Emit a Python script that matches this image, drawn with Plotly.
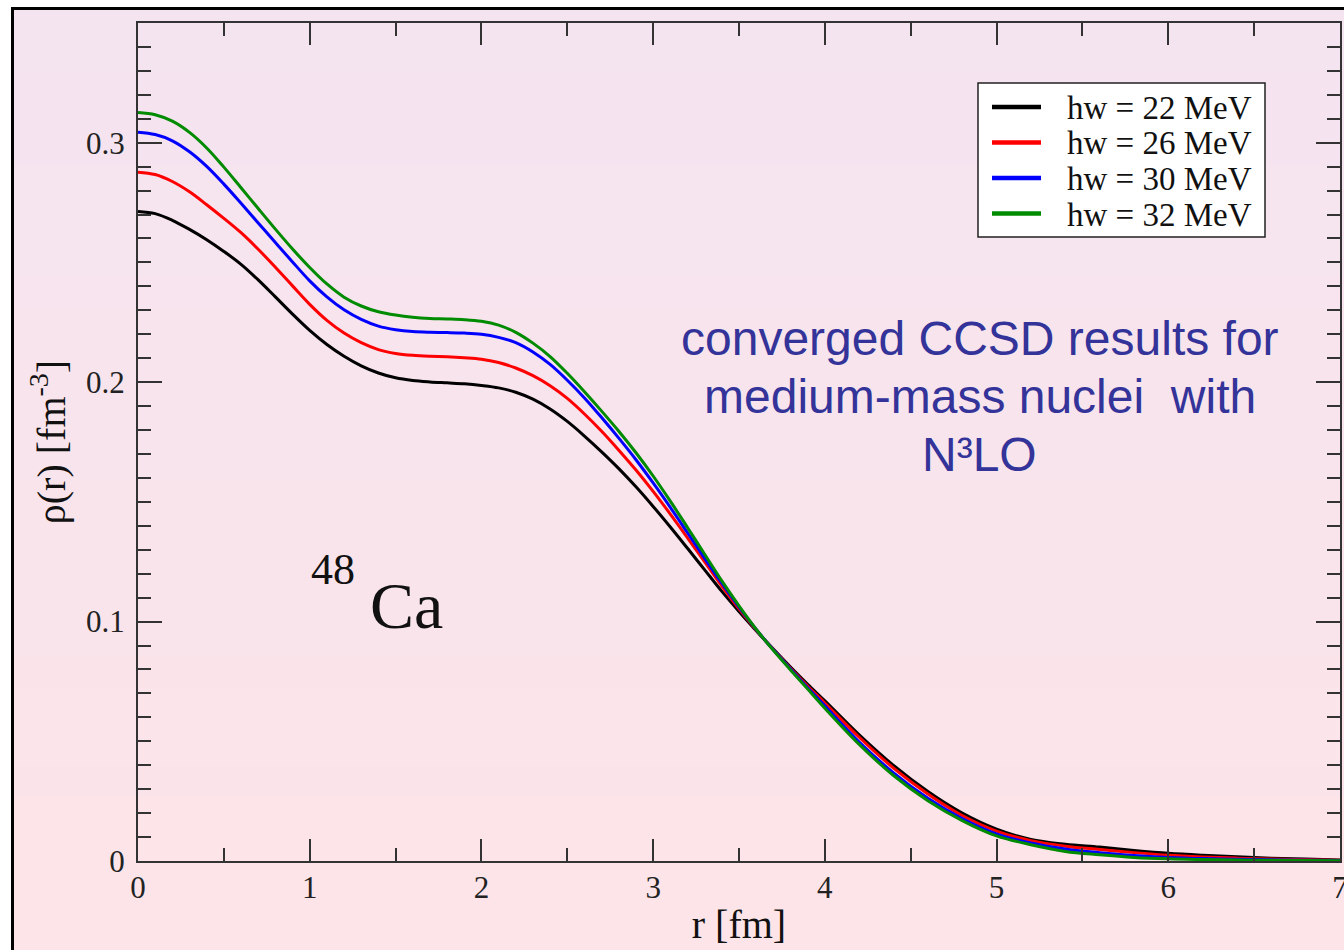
import plotly.graph_objects as go

# Radial density of 48Ca from CCSD at four oscillator frequencies
r = [0.0, 0.1, 0.2, 0.3, 0.4, 0.5, 0.6, 0.7, 0.8, 0.9,
     1.0, 1.1, 1.2, 1.3, 1.4, 1.5, 1.6, 1.7, 1.8, 1.9,
     2.0, 2.1, 2.2, 2.3, 2.4, 2.5, 2.6, 2.7, 2.8, 2.9,
     3.0, 3.1, 3.2, 3.3, 3.4, 3.5, 3.6, 3.7, 3.8, 3.9,
     4.0, 4.2, 4.4, 4.6, 4.8, 5.0, 5.2, 5.4, 5.6, 5.8,
     6.0, 6.2, 6.4, 6.6, 6.8, 7.0]

rho_22 = [0.2713, 0.2704, 0.2676, 0.2638, 0.2595, 0.2546, 0.2492, 0.2427, 0.2356, 0.2284,
          0.2216, 0.2157, 0.2108, 0.2068, 0.2038, 0.2018, 0.2007, 0.2001, 0.1997, 0.1993,
          0.1986, 0.1976, 0.1958, 0.1929, 0.1888, 0.1836, 0.1775, 0.1709, 0.1639, 0.1563,
          0.1481, 0.1395, 0.1306, 0.1216, 0.1126, 0.1042, 0.0962, 0.0885, 0.0810, 0.0738,
          0.0669, 0.0527, 0.0399, 0.0290, 0.0200, 0.0133, 0.0090, 0.0070, 0.0058, 0.0044,
          0.0032, 0.0024, 0.0018, 0.0012, 0.0008, 0.0004]
rho_26 = [0.2877, 0.2867, 0.2838, 0.2795, 0.2741, 0.2684, 0.2624, 0.2555, 0.2480, 0.2402,
          0.2325, 0.2258, 0.2205, 0.2165, 0.2136, 0.2120, 0.2112, 0.2108, 0.2106, 0.2102,
          0.2096, 0.2082, 0.2059, 0.2027, 0.1985, 0.1932, 0.1867, 0.1795, 0.1716, 0.1633,
          0.1544, 0.1449, 0.1350, 0.1249, 0.1148, 0.1053, 0.0965, 0.0883, 0.0805, 0.0731,
          0.0660, 0.0517, 0.0388, 0.0280, 0.0190, 0.0125, 0.0085, 0.0062, 0.0048, 0.0035,
          0.0024, 0.0017, 0.0012, 0.0008, 0.0005, 0.0003]
rho_30 = [0.3044, 0.3034, 0.3008, 0.2962, 0.2901, 0.2827, 0.2747, 0.2665, 0.2583, 0.2502,
          0.2423, 0.2356, 0.2302, 0.2262, 0.2234, 0.2219, 0.2211, 0.2208, 0.2207, 0.2205,
          0.2200, 0.2187, 0.2165, 0.2126, 0.2074, 0.2008, 0.1934, 0.1852, 0.1766, 0.1676,
          0.1579, 0.1477, 0.1371, 0.1264, 0.1160, 0.1060, 0.0967, 0.0882, 0.0802, 0.0724,
          0.0648, 0.0497, 0.0368, 0.0262, 0.0177, 0.0113, 0.0075, 0.0050, 0.0035, 0.0023,
          0.0015, 0.0010, 0.0007, 0.0005, 0.0003, 0.0002]
rho_32 = [0.3126, 0.3117, 0.3090, 0.3043, 0.2978, 0.2898, 0.2812, 0.2725, 0.2639, 0.2556,
          0.2479, 0.2410, 0.2355, 0.2318, 0.2294, 0.2280, 0.2271, 0.2266, 0.2264, 0.2261,
          0.2254, 0.2238, 0.2208, 0.2163, 0.2107, 0.2037, 0.1960, 0.1879, 0.1795, 0.1705,
          0.1608, 0.1503, 0.1393, 0.1281, 0.1170, 0.1066, 0.0968, 0.0880, 0.0798, 0.0718,
          0.0638, 0.0487, 0.0357, 0.0252, 0.0169, 0.0105, 0.0068, 0.0040, 0.0026, 0.0015,
          0.0009, 0.0006, 0.0004, 0.0003, 0.0002, 0.0001]

series = [rho_22, rho_26, rho_30, rho_32]
labels = ["hw = 22 MeV", "hw = 26 MeV", "hw = 30 MeV", "hw = 32 MeV"]
colors = ["#000000", "#ff0000", "#0000ff", "#008b00"]

note_lines = ["converged CCSD results for", "medium-mass nuclei  with", "N\u00b3LO"]

# page geometry (pixels)
W, H = 1344, 950
L, R, T, B = 138, 1340, 23, 861


def px_x(px):
    return (px - L) / (R - L)


def px_y(py):
    return (B - py) / (B - T)


fig = go.Figure()
for ys, name, c in zip(series, labels, colors):
    fig.add_trace(go.Scatter(x=r, y=ys, mode="lines", name=name,
                             line=dict(color=c, width=3, shape="spline", smoothing=1.0),
                             showlegend=False))

shapes = []
# vertical lavender-to-pink background inside the frame
top_rgb = (244, 228, 240)
bot_rgb = (253, 228, 232)
nb = 60
y_start, y_end = 8, H + 5
for i in range(nb):
    t = i / (nb - 1)
    col = tuple(round(a + (b - a) * t) for a, b in zip(top_rgb, bot_rgb))
    ya = y_start + (y_end - y_start) * i / nb
    yb = y_start + (y_end - y_start) * (i + 1) / nb + 1
    shapes.append(dict(type="rect", xref="paper", yref="paper", layer="below",
                       x0=px_x(12), x1=px_x(W + 10), y0=px_y(yb), y1=px_y(ya),
                       fillcolor="rgb(%d,%d,%d)" % col, line=dict(width=0)))
# outer frame
shapes.append(dict(type="rect", xref="paper", yref="paper", layer="above",
                   x0=px_x(12.5), x1=px_x(W + 20), y0=px_y(H + 20), y1=px_y(8.5),
                   line=dict(color="black", width=3)))

# legend box
lg_x0, lg_x1, lg_y0, lg_y1 = 978, 1265, 83, 237
shapes.append(dict(type="rect", xref="paper", yref="paper", layer="above",
                   x0=px_x(lg_x0), x1=px_x(lg_x1), y0=px_y(lg_y1), y1=px_y(lg_y0),
                   fillcolor="white", line=dict(color="#222", width=1.5)))
annotations = []
row_y = [107, 142.5, 178, 213.5]
for ry, name, c in zip(row_y, labels, colors):
    shapes.append(dict(type="line", xref="paper", yref="paper", layer="above",
                       x0=px_x(992), x1=px_x(1041), y0=px_y(ry), y1=px_y(ry),
                       line=dict(color=c, width=4.5)))
    annotations.append(dict(xref="paper", yref="paper", x=px_x(1065), y=px_y(ry + 1),
                            xanchor="left", yanchor="middle", showarrow=False, text=name,
                            font=dict(family="Liberation Serif", size=33, color="#111")))

# nucleus label
annotations.append(dict(xref="paper", yref="paper", x=px_x(333), y=px_y(569),
                        xanchor="center", yanchor="middle", showarrow=False, text="48",
                        font=dict(family="Liberation Serif", size=44, color="#111")))
annotations.append(dict(xref="paper", yref="paper", x=px_x(406), y=px_y(605),
                        xanchor="center", yanchor="middle", showarrow=False, text="Ca",
                        font=dict(family="Liberation Serif", size=66, color="#111")))

# note text
for line_text, ly in zip(note_lines, [339, 396, 454]):
    annotations.append(dict(xref="paper", yref="paper", x=px_x(979.5), y=px_y(ly),
                            xanchor="center", yanchor="middle", showarrow=False,
                            text=line_text,
                            font=dict(family="Liberation Sans", size=48, color="#333399")))

tick_font = dict(family="Liberation Serif", size=31, color="#222")
title_font = dict(family="Liberation Serif", size=40, color="#111")

fig.update_layout(
    width=W, height=H,
    margin=dict(l=L, r=W - R, t=T, b=H - B, pad=0, autoexpand=False),
    paper_bgcolor="white", plot_bgcolor="rgba(0,0,0,0)",
    shapes=shapes, annotations=annotations,
    xaxis=dict(range=[0, 7], dtick=1, tick0=0, ticks="inside", ticklen=22, tickwidth=2,
               tickcolor="#333", showline=True, linecolor="#333", linewidth=2,
               mirror="allticks", showgrid=False, zeroline=False, automargin=False,
               minor=dict(dtick=0.5, ticks="inside", ticklen=13, tickwidth=2, tickcolor="#333"),
               tickfont=tick_font, ticklabelstandoff=-2, ticklabeloverflow="allow",
               title=dict(text="r [fm]", font=title_font, standoff=6)),
    yaxis=dict(range=[0, 0.35], ticks="inside", ticklen=24, tickwidth=2,
               tickcolor="#333", showline=True, linecolor="#333", linewidth=2,
               mirror="allticks", showgrid=False, zeroline=False, automargin=False,
               minor=dict(dtick=0.01, tick0=0, ticks="inside", ticklen=13, tickwidth=2,
                          tickcolor="#333"),
               tickvals=[0, 0.1, 0.2, 0.3], ticktext=["0", "0.1", "0.2", "0.3"],
               tickfont=tick_font, ticklabelstandoff=5, ticklabeloverflow="allow",
               title=dict(text="\u03c1(r) [fm<sup>-3</sup>]", font=title_font, standoff=8)),
)

fig.write_html("out.html")
